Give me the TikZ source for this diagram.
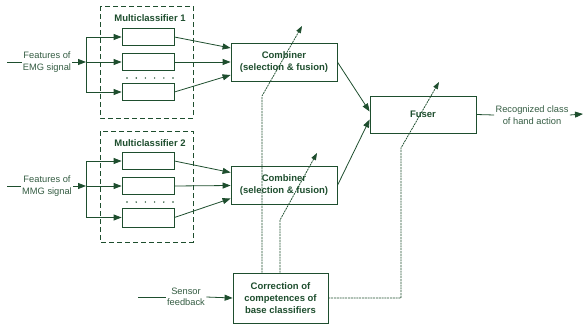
\documentclass[tikz,border=0pt]{standalone}
\usepackage{fontspec}
\setmainfont{Liberation Sans}
\usetikzlibrary{arrows.meta}
\definecolor{dkgreen}{RGB}{30,78,46}
\definecolor{txtgreen}{RGB}{52,92,66}

\begin{document}
\begin{tikzpicture}[x=1pt, y=-1pt, line width=0.8pt, draw=dkgreen,
    >={Triangle[length=8pt,width=6pt]},
    clf/.style={draw=dkgreen, fill=white, minimum width=52pt, minimum height=17pt, inner sep=0pt},
    blk/.style={draw=dkgreen, fill=white, minimum width=106pt, minimum height=38pt, align=center,
        text=dkgreen, font=\fontsize{9.5}{12}\selectfont\bfseries},
    mcbox/.style={draw=dkgreen, dash pattern=on 5pt off 3pt},
    title/.style={text=dkgreen, font=\fontsize{9.5}{12}\selectfont\bfseries},
    lbl/.style={text=txtgreen, align=center, font=\fontsize{9.3}{11.5}\selectfont, inner sep=1pt},
    fb/.style={draw=dkgreen, line width=0.75pt, dash pattern=on 2pt off 0.8pt,
        >={Triangle[length=7pt,width=5pt]}}]
    \useasboundingbox (0,0) rectangle (583,324);

    % Multiclassifier 1
    \draw[mcbox] (100,6) rectangle (193,118);
    \node[title] (mc1) at (150,18) {Multiclassifier 1};
    \node[clf] (c11) at (148,37) {};
    \node[clf] (c12) at (148,62) {};
    \node[clf] (c13) at (148,92) {};
    \foreach \i in {0,...,5} \fill[dkgreen] (127+9.2*\i,78) circle (0.8);
    % Multiclassifier 2
    \draw[mcbox] (100,131) rectangle (193,242);
    \node[title] (mc2) at (150,143) {Multiclassifier 2};
    \node[clf] (c21) at (148,161) {};
    \node[clf] (c22) at (148,186) {};
    \node[clf, minimum height=19pt] (c23) at (148,217.5) {};
    \foreach \i in {0,...,5} \fill[dkgreen] (127+9.2*\i,202) circle (0.8);

    % Inputs
    \node[lbl] (emg) at (47,62) {Features of\\EMG signal};
    \coordinate (e0) at (7,62);
    \coordinate (j1) at (86,62);
    \draw (e0) -- (emg.west);
    \draw[->] (emg.east) -- (j1);
    \draw[->] (j1) |- (c11.west);
    \draw[->] (j1) -- (c12.west);
    \draw[->] (j1) |- (c13.west);
    \node[lbl] (mmg) at (47,186) {Features of\\MMG signal};
    \coordinate (m0) at (7,186);
    \coordinate (j2) at (86,186);
    \draw (m0) -- (mmg.west);
    \draw[->] (mmg.east) -- (j2);
    \draw[->] (j2) |- (c21.west);
    \draw[->] (j2) -- (c22.west);
    \draw[->] (j2) |- (c23.west);

    % Combiners, fuser, correction
    \node[blk] (cmb1) at (284,62) {Combiner\\(selection \& fusion)};
    \node[blk] (cmb2) at (284,185.5) {Combiner\\(selection \& fusion)};
    \node[blk, minimum height=37pt] (fus) at (423,114.5) {Fuser};
    \node[blk, minimum width=95pt, minimum height=50pt] (cor) at (280.5,298)
        {Correction of\\competences of\\base classifiers};

    \draw[->] (c11.east) -- ([yshift=14pt]cmb1.west);
    \draw[->] (c12.east) -- (cmb1.west);
    \draw[->] (c13.east) -- ([yshift=-13pt]cmb1.west);
    \draw[->] (c21.east) -- ([yshift=13pt]cmb2.west);
    \draw[->] (c22.east) -- (cmb2.west);
    \draw[->] (c23.east) -- ([yshift=-13pt]cmb2.west);
    \draw[->] (cmb1.east) -- ([yshift=3pt]fus.west);
    \draw[->] (cmb2.east) -- ([yshift=-5pt]fus.west);

    % Output
    \node[lbl] (out) at (532,115) {Recognized class\\of hand action};
    \coordinate (o1) at (583,114);
    \draw (fus.east) -- (out.west);
    \draw[->] (out.east) -- (o1);

    % Sensor feedback
    \node[lbl] (sens) at (186,297) {Sensor\\feedback};
    \coordinate (s0) at (138,297);
    \draw (s0) -- (sens.west);
    \draw[->] (sens.east) -- (cor.west);

    % Corrections of competences
    \coordinate (k1) at (262,96);  \coordinate (t1) at (302,26);
    \coordinate (k2) at (280,220); \coordinate (t2) at (317,153);
    \coordinate (k3) at (401,148); \coordinate (t3) at (439,82);
    \draw[fb,->] (cor.north -| k1) -- (k1) -- (t1);
    \draw[fb,->] (cor.north -| k2) -- (k2) -- (t2);
    \draw[fb,->] (cor.east) -| (k3) -- (t3);
\end{tikzpicture}
\end{document}
